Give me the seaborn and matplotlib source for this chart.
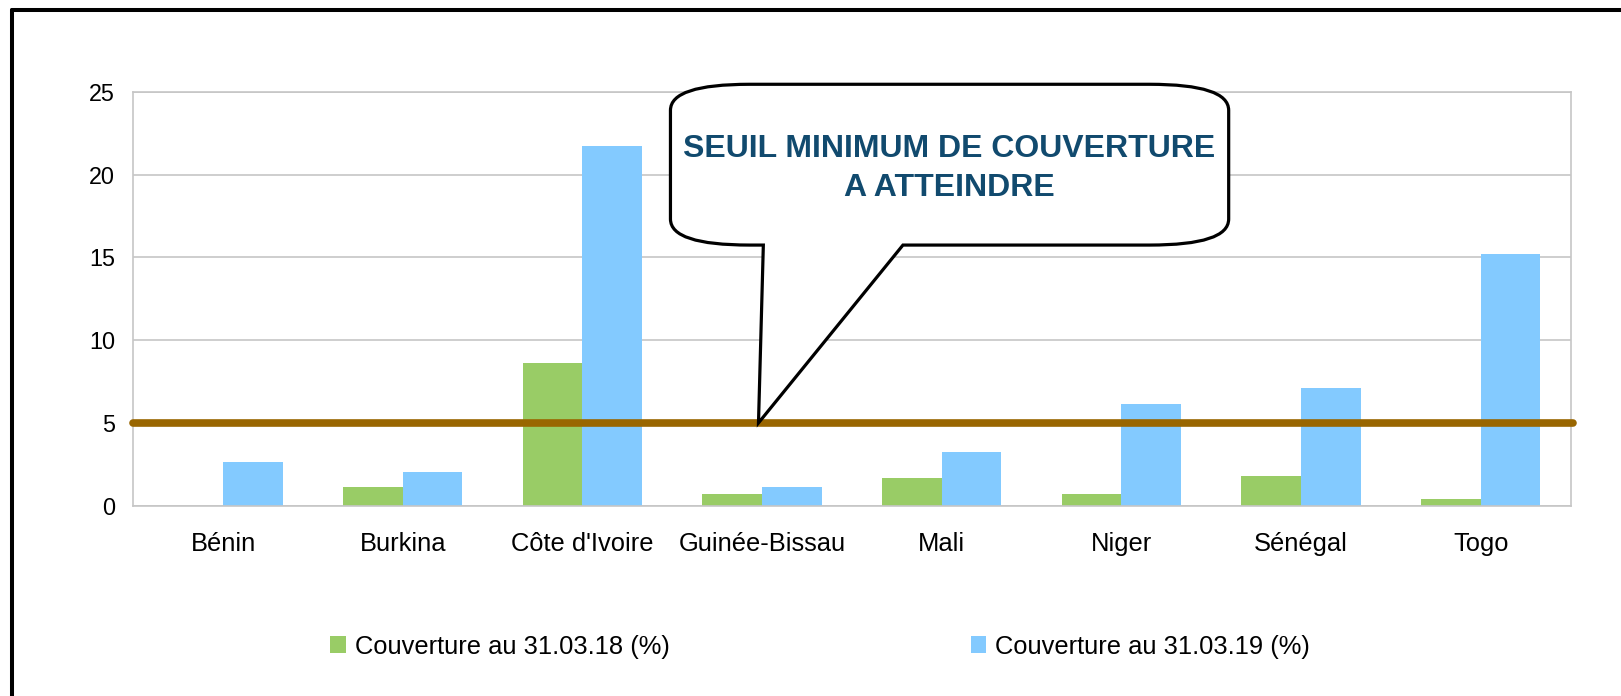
import matplotlib
matplotlib.use("Agg")
import matplotlib.pyplot as plt
import pandas as pd
import seaborn as sns
from matplotlib.lines import Line2D
from matplotlib.patches import PathPatch
from matplotlib.path import Path

pays = ["Bénin", "Burkina", "Côte d'Ivoire", "Guinée-Bissau", "Mali", "Niger", "Sénégal", "Togo"]
couv_2018 = [0.0, 1.13, 8.61, 0.70, 1.67, 0.70, 1.79, 0.38]
couv_2019 = [2.64, 2.03, 21.7, 1.13, 3.24, 6.14, 7.10, 15.19]
series = ["Couverture au 31.03.18 (%)", "Couverture au 31.03.19 (%)"]
seuil = 5
y_ticks = [0, 5, 10, 15, 20, 25]

df = pd.DataFrame({
    "pays": pays * 2,
    "valeur": couv_2018 + couv_2019,
    "serie": [series[0]] * len(pays) + [series[1]] * len(pays),
})

sns.set_style("white")
plt.rcParams["font.family"] = ["Liberation Sans", "DejaVu Sans"]
plt.rcParams["text.color"] = "black"
plt.rcParams["xtick.color"] = "black"
plt.rcParams["ytick.color"] = "black"

fig = plt.figure(figsize=(16.21, 6.96), dpi=100)
ax = fig.add_axes([0.0822, 0.2734, 0.8867, 0.5948])

sns.barplot(data=df, x="pays", y="valeur", hue="serie", palette=["#99cc66", "#83caff"],
            width=0.664, gap=0, saturation=1, linewidth=0, ax=ax, zorder=2)
handles, labels = ax.get_legend_handles_labels()
ax.get_legend().remove()

grid_c = "#c6c6c6"
fs = 18.4
ax.set_ylim(0, 25)
ax.set_xlim(-0.5, len(pays) - 0.5)
ax.set_yticks(y_ticks)
ax.yaxis.grid(True, color=grid_c, linewidth=1.2, zorder=0)
ax.set_axisbelow(True)
for s in ax.spines.values():
    s.set_color(grid_c)
    s.set_linewidth(1.2)
ax.set_xlabel("")
ax.set_ylabel("")
ax.tick_params(axis="y", length=7.2, width=1.2, color=grid_c, labelcolor="black",
               labelsize=16.8, pad=6)
ax.tick_params(axis="x", which="major", length=0, labelcolor="black", labelsize=fs, pad=19)
ax.set_xticks([i - 0.5 for i in range(len(pays) + 1)], minor=True)
ax.tick_params(axis="x", which="minor", length=8, color=grid_c, width=1.2)

# seuil minimum
ax.axhline(seuil, xmin=0, xmax=1.002, color="#996600", linewidth=5.5, zorder=4, clip_on=False)

# bulle
left, right, top, bottom = 2.49, 5.597, 25.45, 15.74
rx, ry = 0.44, 1.57
tip_x = 2.98
base_l, base_r = 3.007, 3.784
verts = [
    (base_l, bottom), (tip_x, seuil), (base_r, bottom),
    (right - rx, bottom), (right, bottom), (right, bottom + ry),
    (right, top - ry), (right, top), (right - rx, top),
    (left + rx, top), (left, top), (left, top - ry),
    (left, bottom + ry), (left, bottom), (left + rx, bottom),
    (base_l, bottom),
]
codes = [Path.MOVETO, Path.LINETO, Path.LINETO,
         Path.LINETO, Path.CURVE3, Path.CURVE3,
         Path.LINETO, Path.CURVE3, Path.CURVE3,
         Path.LINETO, Path.CURVE3, Path.CURVE3,
         Path.LINETO, Path.CURVE3, Path.CURVE3,
         Path.CLOSEPOLY]
ax.add_patch(PathPatch(Path(verts, codes), facecolor="white", edgecolor="black",
                       linewidth=2.3, zorder=6, clip_on=False))
ax.text(4.043, 20.37, "SEUIL MINIMUM DE COUVERTURE\nA ATTEINDRE", ha="center", va="center",
        fontsize=23, fontweight="bold", color="#114a6e", linespacing=1.38, zorder=7)

fig.legend(handles, labels, loc="center", bbox_to_anchor=(0.506, 0.071), ncol=2, frameon=False,
           fontsize=fs, handlelength=0.6, handleheight=0.6, handletextpad=0.35,
           columnspacing=11.8)

# cadre
fig.add_artist(Line2D([0.0074, 0.0074], [0, 0.9856], color="black", linewidth=2.9,
                      transform=fig.transFigure))
fig.add_artist(Line2D([0.0074, 1], [0.9856, 0.9856], color="black", linewidth=2.9,
                      transform=fig.transFigure))

fig.savefig("out.png", dpi=100)
